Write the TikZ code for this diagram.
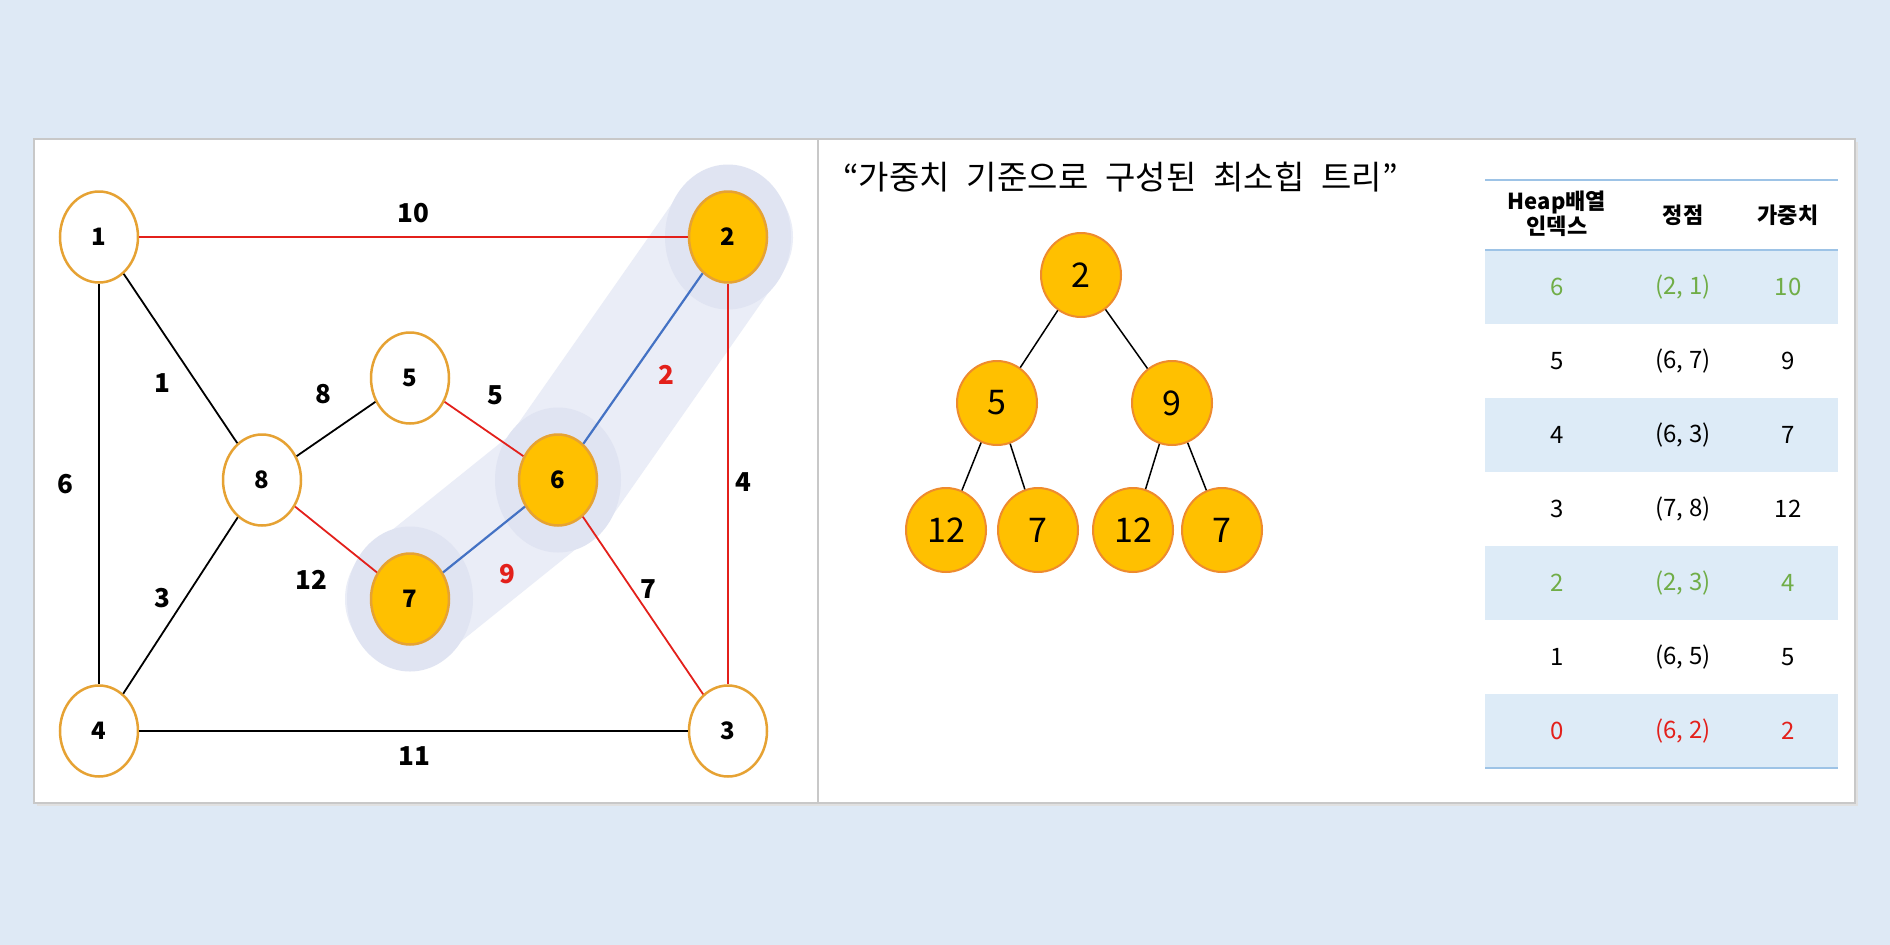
\documentclass[tikz,border=0pt]{standalone}
\usepackage{fontspec}
\setmainfont{Noto Sans CJK KR}
\usetikzlibrary{
  positioning,
  shapes.geometric
}
\definecolor{hpBack}{HTML}{DEE9F5}
\definecolor{hpFrame}{HTML}{C8C8C8}
\definecolor{hpGold}{HTML}{FFC000}
\definecolor{hpRing}{HTML}{E6A233}
\definecolor{hpTreeRing}{HTML}{EE8B2E}
\definecolor{hpRed}{HTML}{E3201B}
\definecolor{hpBlue}{HTML}{4472C4}
\definecolor{hpGreen}{HTML}{70AD47}
\definecolor{hpBand}{HTML}{EAEDF7}
\definecolor{hpHalo}{HTML}{E0E4F2}
\definecolor{hpRow}{HTML}{DDEBF7}
\definecolor{hpRule}{HTML}{9DC3E6}
\tikzset{
  vtx/.style={
    ellipse, draw=hpRing, line width=2.5pt, fill=white, inner sep=0pt,
    minimum width=78pt, minimum height=91pt,
    font=\fontsize{24}{24}\selectfont\bfseries
  },
  picked/.style={vtx, fill=hpGold},
  halo/.style={ellipse, fill=hpHalo, minimum width=126pt, minimum height=145pt},
  band/.style={line width=130pt, hpBand, line cap=round, line join=round},
  wlabel/.style={font=\fontsize{26}{26}\selectfont\bfseries, inner sep=1pt},
  heavy/.style={wlabel, text=hpRed},
  plainedge/.style={line width=1.8pt, black},
  rededge/.style={line width=1.8pt, hpRed},
  blueedge/.style={line width=2.2pt, hpBlue},
  heapnode/.style={
    ellipse, draw=hpTreeRing, line width=2pt, fill=hpGold, inner sep=0pt,
    minimum width=80pt, minimum height=84pt,
    font=\fontsize{34}{34}\selectfont
  },
  treeedge/.style={line width=1.5pt, black},
  title/.style={font=\fontsize{33}{33}\selectfont, inner sep=0pt},
  headcell/.style={font=\fontsize{22}{25}\selectfont\bfseries, align=center, inner sep=0pt},
  cell/.style={font=\fontsize{24}{24}\selectfont, inner sep=0pt},
  rule/.style={hpRule, line width=1.5pt}
}
\begin{document}
\begin{tikzpicture}[x=1pt, y=-1pt]
  \useasboundingbox (0,0) rectangle (1890,945);
  \fill[hpBack] (0,0) rectangle (1890,945);
  % Panels
  \fill[black!12] (37,142) rectangle (1858,806);
  \filldraw[fill=white, draw=hpFrame, line width=1.5pt] (34,139) rectangle (1855,803);
  \draw[hpFrame, line width=1.5pt] (818,139) -- (818,803);

  % Graph: vertex positions
  \coordinate (c1) at (99,237);
  \coordinate (c2) at (728,237);
  \coordinate (c3) at (728,731);
  \coordinate (c4) at (99,731);
  \coordinate (c5) at (410,378);
  \coordinate (c6) at (558,480);
  \coordinate (c7) at (410,599);
  \coordinate (c8) at (262,480);
  % Highlighted path 7-6-2
  \draw[band] (c7) -- (c6) -- (c2);
  \node[halo] (h7) at (c7) {};
  \node[halo] (h6) at (c6) {};
  \node[halo] (h2) at (c2) {};
  % Vertices
  \node[vtx] (v1) at (c1) {1};
  \node[picked] (v2) at (c2) {2};
  \node[vtx] (v3) at (c3) {3};
  \node[vtx] (v4) at (c4) {4};
  \node[vtx] (v5) at (c5) {5};
  \node[picked] (v6) at (c6) {6};
  \node[picked] (v7) at (c7) {7};
  \node[vtx] (v8) at (c8) {8};
  % Edges
  \draw[rededge] (v1) -- (v2);
  \draw[plainedge] (v1) -- (v8);
  \draw[plainedge] (v1) -- (v4);
  \draw[plainedge] (v8) -- (v5);
  \draw[plainedge] (v8) -- (v4);
  \draw[rededge] (v8) -- (v7);
  \draw[rededge] (v5) -- (v6);
  \draw[blueedge] (v6) -- (v2);
  \draw[blueedge] (v7) -- (v6);
  \draw[rededge] (v6) -- (v3);
  \draw[rededge] (v2) -- (v3);
  \draw[plainedge] (v4) -- (v3);
  % Weights
  \node[wlabel] (w12) at (413,213) {10};
  \node[wlabel] (w18) at (162,383) {1};
  \node[wlabel] (w14) at (65,484) {6};
  \node[wlabel] (w85) at (323,394) {8};
  \node[wlabel] (w56) at (495,395) {5};
  \node[heavy] (w62) at (666,375) {2};
  \node[wlabel] (w23) at (743,482) {4};
  \node[wlabel] (w87) at (311,580) {12};
  \node[heavy] (w76) at (507,574) {9};
  \node[wlabel] (w63) at (648,589) {7};
  \node[wlabel] (w84) at (162,598) {3};
  \node[wlabel] (w43) at (414,756) {11};

  % Min-heap tree
  \node[title, anchor=west] (ttl) at (843,177)
    {\spaceskip=17pt“가중치 기준으로 구성된 최소힙 트리”};
  \node[heapnode] (t0) at (1081,275) {2};
  \node[heapnode] (t1) at (997,403) {5};
  \node[heapnode] (t2) at (1172,403) {9};
  \node[heapnode] (t3) at (946,530) {12};
  \node[heapnode] (t4) at (1038,530) {7};
  \node[heapnode] (t5) at (1133,530) {12};
  \node[heapnode] (t6) at (1222,530) {7};
  \draw[treeedge] (t0) -- (t1);
  \draw[treeedge] (t0) -- (t2);
  \draw[treeedge] (t1) -- (t3);
  \draw[treeedge] (t1) -- (t4);
  \draw[treeedge] (t2) -- (t5);
  \draw[treeedge] (t2) -- (t6);

  % Heap array table
  \foreach \i in {0,2,4,6}
    \fill[hpRow] (1485,{250+74*\i}) rectangle (1838,{324+74*\i});
  \draw[rule, line width=1.2pt] (1485,180) -- (1838,180);
  \draw[rule, line width=2pt] (1485,250) -- (1838,250);
  \draw[rule, line width=1.5pt] (1485,768) -- (1838,768);
  \node[headcell] (hIdx) at (1557,214) {Heap배열\\인덱스};
  \node[headcell] (hVtx) at (1683,215) {정점};
  \node[headcell] (hWt) at (1788,215) {가중치};
  \foreach \i/\ix/\ed/\wt/\tone in {0/6/{(2,\ 1)}/10/hpGreen, 1/5/{(6,\ 7)}/9/black,
      2/4/{(6,\ 3)}/7/black, 3/3/{(7,\ 8)}/12/black, 4/2/{(2,\ 3)}/4/hpGreen,
      5/1/{(6,\ 5)}/5/black, 6/0/{(6,\ 2)}/2/hpRed}{
    \pgfmathsetmacro{\ry}{287+74*\i}
    \node[cell, text=\tone] (ix\i) at (1557,\ry) {\ix};
    \node[cell, text=\tone] (ed\i) at (1683,\ry) {\ed};
    \node[cell, text=\tone] (wt\i) at (1788,\ry) {\wt};
  }
\end{tikzpicture}
\end{document}
